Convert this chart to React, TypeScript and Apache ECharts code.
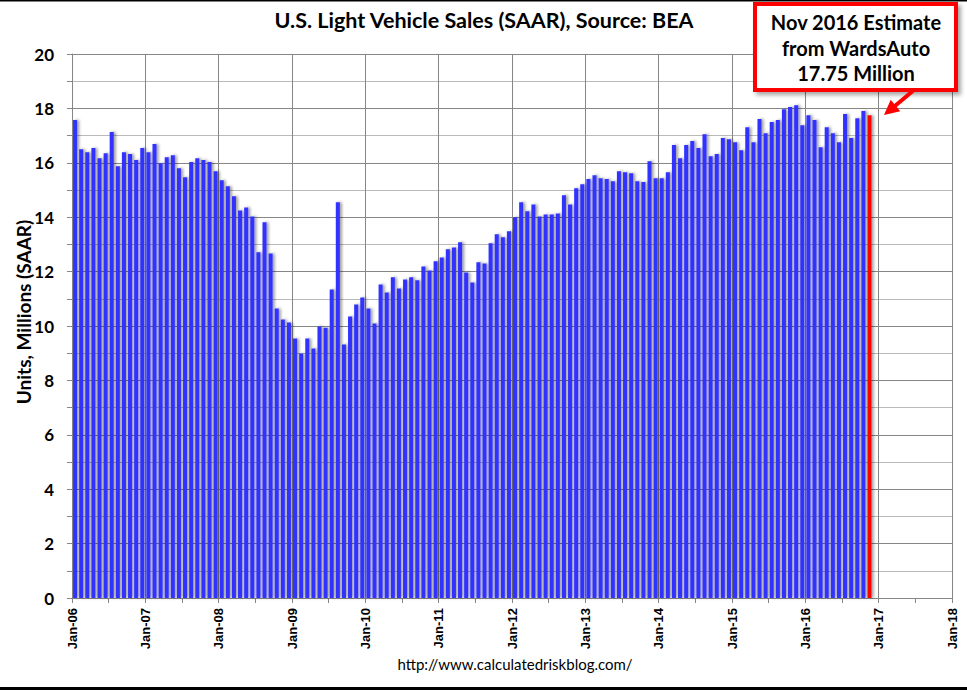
import React, { useEffect, useRef } from "react";
import * as echarts from "echarts";

const monthNames = ["Jan", "Feb", "Mar", "Apr", "May", "Jun", "Jul", "Aug", "Sep", "Oct", "Nov", "Dec"];
const yearSuffixes = ["06", "07", "08", "09", "10", "11", "12", "13", "14", "15", "16", "17"];

const sales2006 = [17.57, 16.5, 16.39, 16.54, 16.17, 16.35, 17.13, 15.87, 16.39, 16.32, 16.1, 16.54];
const sales2007 = [16.39, 16.69, 15.98, 16.2, 16.28, 15.8, 15.47, 16.03, 16.17, 16.1, 16.03, 15.69];
const sales2008 = [15.36, 15.14, 14.77, 14.25, 14.36, 14.03, 12.71, 13.81, 12.67, 10.64, 10.24, 10.13];
const sales2009 = [9.54, 8.99, 9.54, 9.17, 9.98, 9.94, 11.34, 14.55, 9.32, 10.35, 10.79, 11.05];
const sales2010 = [10.64, 10.09, 11.53, 11.23, 11.79, 11.38, 11.71, 11.79, 11.68, 12.19, 12.04, 12.38];
const sales2011 = [12.52, 12.82, 12.89, 13.08, 11.97, 11.6, 12.34, 12.3, 13.04, 13.37, 13.26, 13.48];
const sales2012 = [14.0, 14.55, 14.22, 14.47, 14.03, 14.1, 14.1, 14.14, 14.81, 14.47, 15.06, 15.21];
const sales2013 = [15.4, 15.54, 15.43, 15.4, 15.32, 15.69, 15.65, 15.62, 15.32, 15.29, 16.06, 15.43];
const sales2014 = [15.43, 15.65, 16.65, 16.17, 16.65, 16.8, 16.54, 17.05, 16.24, 16.32, 16.91, 16.87];
const sales2015 = [16.76, 16.46, 17.31, 16.76, 17.61, 17.09, 17.5, 17.57, 17.97, 18.05, 18.12, 17.38];
const sales2016 = [17.75, 17.57, 16.57, 17.31, 17.09, 16.76, 17.79, 16.91, 17.64, 17.9];
const estimateNov2016 = [17.75];

const tickLabels = [
  "Jan-06", "Jan-07", "Jan-08", "Jan-09", "Jan-10", "Jan-11", "Jan-12",
  "Jan-13", "Jan-14", "Jan-15", "Jan-16", "Jan-17", "Jan-18",
];

const titleText = "U.S. Light Vehicle Sales (SAAR), Source: BEA";
const yAxisTitle = "Units, Millions (SAAR)";
const sourceText = "http://www.calculatedriskblog.com/";
const noteLines = ["Nov 2016 Estimate", "from WardsAuto", "17.75 Million"];

const BLUE = "#3333ff";
const RED = "#ff0000";
const GRID_DARK = "#868686";
const GRID_LIGHT = "#b9b9b9";
const CALIBRI = "Lato, 'Open Sans', sans-serif";

export default function App() {
  const ref = useRef<HTMLDivElement>(null);

  useEffect(() => {
    if (!ref.current) return;
    const chart = echarts.init(ref.current, null, { renderer: "svg" });

    const months: string[] = [];
    yearSuffixes.forEach((y) => monthNames.forEach((m) => months.push(`${m}-${y}`)));

    const actual = [
      ...sales2006, ...sales2007, ...sales2008, ...sales2009, ...sales2010, ...sales2011,
      ...sales2012, ...sales2013, ...sales2014, ...sales2015, ...sales2016,
    ];
    const barData: any[] = actual.map((v) => v);
    estimateNov2016.forEach((v) =>
      barData.push({ value: v, itemStyle: { color: RED } })
    );

    // arrow geometry (annotation)
    const tail = [914, 90];
    const tip = [884, 115];
    const dx = tip[0] - tail[0];
    const dy = tip[1] - tail[1];
    const len = Math.hypot(dx, dy);
    const ux = dx / len, uy = dy / len;
    const px = -uy, py = ux;
    const headLen = 15, headHalf = 7.5;
    const baseX = tip[0] - ux * headLen, baseY = tip[1] - uy * headLen;

    const option: any = {
      animation: false,
      backgroundColor: "#ffffff",
      grid: { left: 72, right: 15, top: 54, bottom: 92, containLabel: false },
      xAxis: [
        {
          type: "category",
          data: months,
          show: false,
          boundaryGap: true,
          position: "bottom",
        },
        {
          type: "value",
          min: 0,
          max: 144,
          interval: 12,
          position: "bottom",
          axisLine: { show: true, lineStyle: { color: GRID_DARK, width: 1 } },
          axisTick: { show: true, length: 5, lineStyle: { color: GRID_DARK } },
          minorTick: { show: true, splitNumber: 2, length: 5, lineStyle: { color: GRID_DARK } },
          splitLine: { show: true, lineStyle: { color: GRID_DARK, width: 1 } },
          axisLabel: {
            rotate: 90,
            margin: 10,
            color: "#000",
            fontFamily: "'Liberation Sans', Arial, sans-serif",
            fontWeight: "bold",
            fontSize: 13,
            formatter: (v: number) => tickLabels[Math.round(v / 12)] ?? "",
          },
        },
      ],
      yAxis: {
        type: "value",
        min: 0,
        max: 20,
        interval: 2,
        axisLine: { show: true, lineStyle: { color: GRID_DARK, width: 1 } },
        axisTick: { show: true, length: 5, lineStyle: { color: GRID_DARK } },
        minorTick: { show: true, splitNumber: 2, length: 5, lineStyle: { color: GRID_DARK } },
        splitLine: { show: true, lineStyle: { color: GRID_DARK, width: 1 } },
        minorSplitLine: { show: true, lineStyle: { color: GRID_LIGHT, width: 1 } },
        axisLabel: {
          margin: 18,
          color: "#000",
          fontFamily: CALIBRI,
          fontWeight: "bold",
          fontSize: 17,
        },
      },
      series: [
        {
          type: "bar",
          xAxisIndex: 0,
          yAxisIndex: 0,
          data: barData,
          barWidth: "66%",
          itemStyle: {
            color: BLUE,
            shadowColor: "rgba(0,0,0,0.4)",
            shadowBlur: 3,
            shadowOffsetX: 2,
            shadowOffsetY: 0,
          },
        },
      ],
      graphic: [
        { type: "rect", left: 0, top: 0, shape: { width: 967, height: 1.5 }, style: { fill: "#000" } },
        { type: "rect", left: 0, top: 687, shape: { width: 967, height: 3 }, style: { fill: "#000" } },
        {
          type: "text",
          x: 484,
          y: 20,
          style: {
            text: titleText,
            fill: "#000",
            font: `bold 21.5px ${CALIBRI}`,
            align: "center",
            verticalAlign: "middle",
          },
        },
        {
          type: "text",
          x: 23,
          y: 312,
          rotation: Math.PI / 2,
          style: {
            text: yAxisTitle,
            fill: "#000",
            font: `bold 19px ${CALIBRI}`,
            align: "center",
            verticalAlign: "middle",
          },
        },
        {
          type: "text",
          x: 515,
          y: 664,
          style: {
            text: sourceText,
            fill: "#000",
            font: `15px ${CALIBRI}`,
            align: "center",
            verticalAlign: "middle",
          },
        },
        {
          type: "rect",
          shape: { x: 755, y: 4, width: 201, height: 86 },
          style: {
            fill: "#fff",
            stroke: RED,
            lineWidth: 4,
            shadowColor: "rgba(0,0,0,0.35)",
            shadowBlur: 4,
            shadowOffsetX: 3,
            shadowOffsetY: 3,
          },
          z: 10,
        },
        ...noteLines.map((t, i) => ({
          type: "text",
          x: 856,
          y: 22 + i * 25.5,
          z: 11,
          style: {
            text: t,
            fill: "#000",
            font: `bold 20px ${CALIBRI}`,
            align: "center",
            verticalAlign: "middle",
          },
        })),
        {
          type: "line",
          shape: { x1: tail[0], y1: tail[1], x2: baseX + ux * 2, y2: baseY + uy * 2 },
          style: { stroke: RED, lineWidth: 4 },
          z: 11,
        },
        {
          type: "polygon",
          shape: {
            points: [
              [tip[0], tip[1]],
              [baseX + px * headHalf, baseY + py * headHalf],
              [baseX - px * headHalf, baseY - py * headHalf],
            ],
          },
          style: { fill: RED },
          z: 11,
        },
      ],
    };

    chart.setOption(option);
    return () => chart.dispose();
  }, []);

  return (
    <div
      ref={ref}
      style={{ position: "fixed", left: 0, top: 0, width: 967, height: 690, background: "#fff" }}
    />
  );
}
